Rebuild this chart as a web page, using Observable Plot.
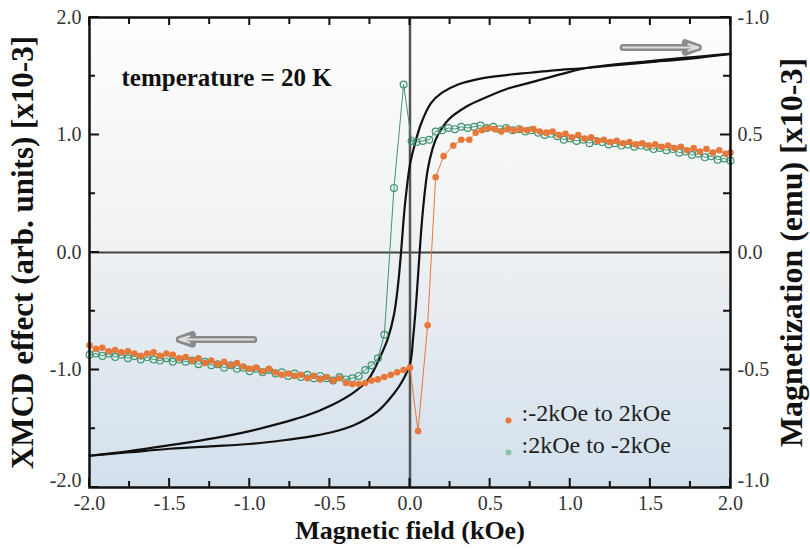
<!DOCTYPE html>
<html><head><meta charset="utf-8">
<script src="https://cdn.jsdelivr.net/npm/d3@7"></script>
<script src="https://cdn.jsdelivr.net/npm/@observablehq/plot@0.6"></script>
<style>
body{margin:0;background:#fff;}
#chart{width:810px;height:552px;}
</style>
</head><body><div id="chart"></div>
<script>
// ---- XMCD data: sweep -2 kOe -> +2 kOe (filled orange dots)
const upSweepField = [-2.00,-1.96,-1.92,-1.88,-1.84,-1.80,-1.76,-1.72,-1.68,-1.64,-1.60,-1.56,-1.52,-1.48,-1.44,-1.40,-1.36,-1.32,-1.28,-1.24,-1.20,-1.16,-1.12,-1.08,-1.04,-1.00,-0.96,-0.92,-0.88,-0.84,-0.80,-0.76,-0.72,-0.68,-0.64,-0.60,-0.56,-0.52,-0.48,-0.44,-0.40,-0.36,-0.32,-0.28,-0.24,-0.20,-0.16,-0.12,-0.08,-0.04,0.00,0.05,0.11,0.16,0.21,0.27,0.32,0.37,0.41,0.45,0.49,0.53,0.57,0.61,0.65,0.69,0.73,0.77,0.81,0.85,0.89,0.93,0.97,1.01,1.05,1.09,1.13,1.17,1.21,1.25,1.29,1.33,1.37,1.41,1.45,1.49,1.53,1.57,1.61,1.65,1.69,1.73,1.77,1.81,1.85,1.89,1.93,1.97,2.00];
const upSweepXmcd = [-0.79,-0.82,-0.81,-0.84,-0.83,-0.85,-0.84,-0.86,-0.88,-0.86,-0.85,-0.88,-0.86,-0.87,-0.90,-0.89,-0.92,-0.90,-0.94,-0.92,-0.95,-0.93,-0.96,-0.94,-0.97,-0.99,-0.98,-1.01,-0.99,-1.02,-1.04,-1.03,-1.05,-1.04,-1.07,-1.05,-1.08,-1.06,-1.09,-1.07,-1.11,-1.12,-1.12,-1.11,-1.09,-1.08,-1.06,-1.04,-1.02,-1.00,-0.98,-1.52,-0.62,0.64,0.82,0.91,0.96,0.96,1.02,1.04,1.06,1.05,1.03,1.05,1.04,1.05,1.04,1.05,1.03,1.02,1.03,1.00,1.01,0.98,1.00,0.97,0.98,0.95,0.96,0.94,0.95,0.93,0.94,0.92,0.93,0.91,0.92,0.90,0.91,0.89,0.90,0.87,0.89,0.86,0.88,0.85,0.87,0.84,0.85];

// ---- XMCD data: sweep +2 kOe -> -2 kOe (open green circles)
const downSweepField = [2.00,1.96,1.92,1.88,1.84,1.80,1.76,1.72,1.68,1.64,1.60,1.56,1.52,1.48,1.44,1.40,1.36,1.32,1.28,1.24,1.20,1.16,1.12,1.08,1.04,1.00,0.96,0.92,0.88,0.84,0.80,0.76,0.72,0.68,0.64,0.60,0.56,0.52,0.48,0.44,0.40,0.36,0.32,0.28,0.24,0.20,0.16,0.12,0.08,0.04,0.01,-0.04,-0.10,-0.16,-0.20,-0.24,-0.28,-0.32,-0.36,-0.40,-0.44,-0.48,-0.52,-0.56,-0.60,-0.64,-0.68,-0.72,-0.76,-0.80,-0.84,-0.88,-0.92,-0.96,-1.00,-1.04,-1.08,-1.12,-1.16,-1.20,-1.24,-1.28,-1.32,-1.36,-1.40,-1.44,-1.48,-1.52,-1.56,-1.60,-1.64,-1.68,-1.72,-1.76,-1.80,-1.84,-1.88,-1.92,-1.96,-2.00];
const downSweepXmcd = [0.78,0.80,0.79,0.82,0.81,0.84,0.83,0.86,0.85,0.88,0.87,0.89,0.88,0.90,0.91,0.90,0.92,0.91,0.93,0.92,0.94,0.95,0.93,0.96,0.95,0.97,0.96,0.99,1.01,1.00,1.02,1.04,1.03,1.05,1.04,1.06,1.05,1.07,1.06,1.08,1.07,1.06,1.07,1.05,1.06,1.04,1.03,0.96,0.95,0.94,0.95,1.43,0.55,-0.70,-0.90,-0.96,-1.00,-1.05,-1.07,-1.08,-1.06,-1.09,-1.07,-1.05,-1.07,-1.04,-1.06,-1.03,-1.05,-1.02,-1.03,-1.00,-1.02,-0.99,-1.01,-0.98,-0.99,-0.96,-0.98,-0.95,-0.96,-0.93,-0.95,-0.92,-0.93,-0.91,-0.93,-0.90,-0.92,-0.91,-0.89,-0.91,-0.88,-0.90,-0.87,-0.89,-0.86,-0.88,-0.86,-0.87];

// ---- Magnetization loop (emu x10^-3), right axis
const loopDownField = [2.0,1.75,1.5,1.25,1.1,0.9,0.75,0.6,0.44,0.3,0.2,0.13,0.07,0.03,0.0,-0.025,-0.04,-0.056,-0.075,-0.1,-0.14,-0.18,-0.26,-0.35,-0.49,-0.65,-0.8,-1.0,-1.22,-1.5,-1.75,-2.0];
const loopDownMag = [0.845,0.825,0.81,0.795,0.785,0.775,0.765,0.755,0.74,0.715,0.68,0.635,0.55,0.46,0.375,0.245,0.14,0.0,-0.14,-0.265,-0.37,-0.435,-0.54,-0.595,-0.65,-0.695,-0.725,-0.76,-0.79,-0.82,-0.845,-0.865];
const loopUpField = [-2.0,-1.75,-1.5,-1.25,-1.0,-0.8,-0.6,-0.49,-0.35,-0.2,-0.1,-0.05,0.0,0.02,0.04,0.06,0.08,0.11,0.14,0.17,0.24,0.35,0.44,0.6,0.76,0.95,1.1,1.5,2.0];
const loopUpMag = [-0.865,-0.85,-0.835,-0.825,-0.815,-0.80,-0.78,-0.765,-0.735,-0.675,-0.60,-0.55,-0.475,-0.36,-0.20,0.0,0.175,0.35,0.44,0.495,0.565,0.62,0.65,0.695,0.725,0.76,0.785,0.815,0.845];

// ---- Axes, ticks, labels
const xMajorTicks = [-2,-1.5,-1,-0.5,0,0.5,1,1.5,2];
const xMinorTicks = [-1.75,-1.25,-0.75,-0.25,0.25,0.75,1.25,1.75];
const yMajorTicks = [-2,-1,0,1,2];
const yMinorTicks = [-1.5,-0.5,0.5,1.5];
const magTicks = [-1,-0.5,0,0.5,1];           // emu x10^-3
const magMinorTicks = [-0.75,-0.25,0.25,0.75];
const magTickLabels = ["-1.0","-0.5","0.0","0.5","-1.0"]; // as printed
const magPerXmcd = 0.5;                         // right-axis units per left-axis unit
const xLabel = "Magnetic field (kOe)";
const yLeftLabel = "XMCD effect (arb. units) [x10-3]";
const yRightLabel = "Magnetization (emu) [x10-3]";
const tempNote = "temperature = 20 K";
const legendLabels = [":-2kOe to 2kOe", ":2kOe to -2kOe"];
const sweepArrows = [{x1:1.33,x2:1.80,y:1.745},{x1:-0.975,x2:-1.44,y:-0.74}];

const orangeC = "#e8783a", greenC = "#3f9470";
const serif = "'Liberation Serif','Times New Roman',serif";

const upSweep = upSweepField.map((x,i)=>({x, y: upSweepXmcd[i]}));
const downSweep = downSweepField.map((x,i)=>({x, y: downSweepXmcd[i]}));
const loopDown = loopDownField.map((x,i)=>({x, m: loopDownMag[i]}));
const loopUp = loopUpField.map((x,i)=>({x, m: loopUpMag[i]}));
const magY = d => d.m / magPerXmcd;
const magPos = magTicks.map(m => m / magPerXmcd);
const magLabel = d => magTickLabels[magTicks.indexOf(d * magPerXmcd)];

const NS = "http://www.w3.org/2000/svg";
const gradient = () => {
  const defs = document.createElementNS(NS,"defs");
  const g = document.createElementNS(NS,"linearGradient");
  g.setAttribute("id","bgGrad"); g.setAttribute("x1","0"); g.setAttribute("y1","0");
  g.setAttribute("x2","0"); g.setAttribute("y2","1");
  [["0","#fefefe"],["0.45","#f1f2f3"],["1","#d2e0ec"]].forEach(([o,c])=>{
    const s = document.createElementNS(NS,"stop");
    s.setAttribute("offset",o); s.setAttribute("stop-color",c); g.appendChild(s);
  });
  defs.appendChild(g);
  return defs;
};

// inward tick marks, positioned with the plot's own scales
const insideTicks = (index, scales, values, dims) => {
  const {x, y} = scales;
  const L = dims.marginLeft, R = dims.width - dims.marginRight;
  const T = dims.marginTop, B = dims.height - dims.marginBottom;
  const g = document.createElementNS(NS,"g");
  g.setAttribute("stroke","#111"); g.setAttribute("stroke-width","2");
  const seg = (x1,y1,x2,y2) => {
    const l = document.createElementNS(NS,"line");
    l.setAttribute("x1",x1); l.setAttribute("y1",y1); l.setAttribute("x2",x2); l.setAttribute("y2",y2);
    g.appendChild(l);
  };
  xMajorTicks.forEach(v => { const p = x(v); seg(p,B,p,B-9); seg(p,T,p,T+8); });
  xMinorTicks.forEach(v => { const p = x(v); seg(p,B,p,B-6); seg(p,T,p,T+7); });
  yMajorTicks.forEach(v => { const p = y(v); seg(L,p,L+10,p); });
  yMinorTicks.forEach(v => { const p = y(v); seg(L,p,L+6,p); });
  magTicks.forEach(m => { const p = y(m / magPerXmcd); seg(R,p,R-10,p); });
  magMinorTicks.forEach(m => { const p = y(m / magPerXmcd); seg(R,p,R-7,p); });
  return g;
};

const labelStyle = {tickSize:0, label:null, fontSize:20, fill:"#333"};

const chart = Plot.plot({
  width: 810, height: 552,
  marginLeft: 89, marginRight: 80, marginTop: 17, marginBottom: 65,
  style: {fontFamily: serif, background: "#fff", overflow: "visible"},
  x: {domain: [-2, 2]},
  y: {domain: [-2, 2]},
  marks: [
    gradient,
    Plot.frame({fill: "url(#bgGrad)", stroke: "none"}),
    Plot.ruleY([0], {stroke:"#444", strokeWidth:2}),
    Plot.ruleX([0], {stroke:"#555", strokeWidth:2.5}),
    Plot.arrow(sweepArrows, {x1:"x1", x2:"x2", y1:"y", y2:"y", stroke:"#8a8a8a", strokeWidth:7, headLength:3, headAngle:40}),
    Plot.arrow(sweepArrows, {x1:"x1", x2:"x2", y1:"y", y2:"y", stroke:"#dedede", strokeWidth:2, headLength:8, headAngle:35}),
    Plot.line(loopDown, {x:"x", y:magY, stroke:"#111", strokeWidth:2.2, curve:"catmull-rom"}),
    Plot.line(loopUp, {x:"x", y:magY, stroke:"#111", strokeWidth:2.2, curve:"catmull-rom"}),
    Plot.line(downSweep, {x:"x", y:"y", stroke:greenC, strokeWidth:1}),
    Plot.dot(downSweep, {x:"x", y:"y", r:3.4, stroke:greenC, strokeWidth:1.2, fill:"none"}),
    Plot.line(upSweep, {x:"x", y:"y", stroke:orangeC, strokeWidth:1}),
    Plot.dot(upSweep, {x:"x", y:"y", r:3.3, fill:orangeC, stroke:"none"}),
    insideTicks,
    Plot.frame({stroke:"#111", strokeWidth:2.5}),
    // tick labels
    Plot.axisX(xMajorTicks, {anchor:"bottom", tickPadding:8, tickFormat:d=>d.toFixed(1), ...labelStyle}),
    Plot.axisY(yMajorTicks.filter(v => v > -2), {anchor:"left", tickPadding:8, tickFormat:d=>d.toFixed(1), ...labelStyle}),
    Plot.axisY([-2], {anchor:"left", tickPadding:8, dy:-7, tickFormat:d=>d.toFixed(1), ...labelStyle}),
    Plot.axisY(magPos.filter(v => v > -2), {anchor:"right", tickPadding:7, tickFormat:magLabel, ...labelStyle}),
    Plot.axisY(magPos.filter(v => v === -2), {anchor:"right", tickPadding:7, dy:-7, tickFormat:magLabel, ...labelStyle}),
    // titles
    Plot.text([xLabel], {text:d=>d, frameAnchor:"bottom", dy:51, fontSize:26, fontWeight:"bold", fill:"#111"}),
    Plot.text([yLeftLabel], {text:d=>d, frameAnchor:"left", dx:-66, rotate:-90, textAnchor:"middle", fontSize:31, fontWeight:"bold", fill:"#111"}),
    Plot.text([yRightLabel], {text:d=>d, frameAnchor:"right", dx:61, rotate:-90, textAnchor:"middle", fontSize:32, fontWeight:"bold", fill:"#111"}),
    Plot.text([tempNote], {text:d=>d, frameAnchor:"top-left", dx:32, dy:51, textAnchor:"start", fontSize:25, fontWeight:"bold", fill:"#111"}),
    // legend
    Plot.dot([legendLabels[0]], {frameAnchor:"bottom-right", dx:-222, dy:-67, r:3, fill:orangeC}),
    Plot.dot([legendLabels[1]], {frameAnchor:"bottom-right", dx:-222, dy:-35, r:3, fill:"#8fbfa8"}),
    Plot.text([legendLabels[0]], {text:d=>d, frameAnchor:"bottom-right", dx:-209, dy:-67, textAnchor:"start", fontSize:24, fill:"#222"}),
    Plot.text([legendLabels[1]], {text:d=>d, frameAnchor:"bottom-right", dx:-209, dy:-35, textAnchor:"start", fontSize:24, fill:"#222"})
  ]
});
document.getElementById("chart").appendChild(chart);
</script></body></html>
